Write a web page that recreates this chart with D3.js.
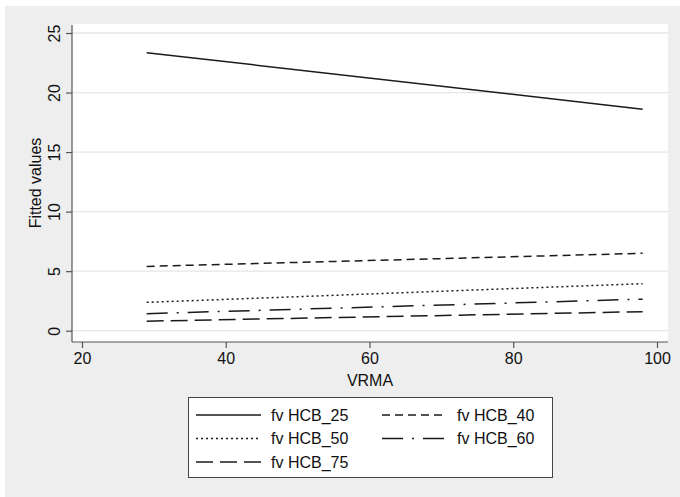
<!DOCTYPE html>
<html>
<head>
<meta charset="utf-8">
<script src="https://cdn.jsdelivr.net/npm/d3@7"></script>
<style>
  html, body { margin: 0; padding: 0; background: #ffffff; }
  svg { display: block; }
  text { font-family: "Liberation Sans", Arial, Helvetica, sans-serif; fill: #111; }
</style>
</head>
<body>
<svg id="chart" width="680" height="497"></svg>
<script>
// ---- data ----
const vrma = [29, 98];
const hcb25 = [23.35, 18.6];
const hcb40 = [5.4, 6.5];
const hcb50 = [2.38, 3.95];
const hcb60 = [1.43, 2.65];
const hcb75 = [0.8, 1.6];
const seriesNames = ["fv HCB_25", "fv HCB_40", "fv HCB_50", "fv HCB_60", "fv HCB_75"];
const xTicks = [20, 40, 60, 80, 100];
const yTicks = [0, 5, 10, 15, 20, 25];
const xTitle = "VRMA";
const yTitle = "Fitted values";

// ---- styles ----
const dashes = ["none", "8,5", "2,3", "21,9,2,9", "17,7"];

const svg = d3.select("#chart");
const W = 680, H = 497;
const plot = { left: 72, right: 668, top: 24, bottom: 342 };

// background
svg.append("rect").attr("x", 5).attr("y", 6).attr("width", W - 5).attr("height", H - 6)
  .attr("fill", "#eeeeee");
svg.append("rect").attr("x", plot.left).attr("y", plot.top)
  .attr("width", plot.right - plot.left).attr("height", plot.bottom - plot.top)
  .attr("fill", "#ffffff");

const x = d3.scaleLinear().domain([20, 100]).range([82, 657]);
const y = d3.scaleLinear().domain([0, 25]).range([330.7, 33]);

// gridlines
svg.append("g").selectAll("line").data(yTicks).join("line")
  .attr("x1", plot.left).attr("x2", plot.right)
  .attr("y1", d => y(d)).attr("y2", d => y(d))
  .attr("stroke", "#e6e6e6").attr("stroke-width", 1.3);

// axis lines
svg.append("line").attr("x1", plot.left).attr("x2", plot.left)
  .attr("y1", plot.top + 1).attr("y2", plot.bottom)
  .attr("stroke", "#555").attr("stroke-width", 1.2);
svg.append("line").attr("x1", plot.left).attr("x2", plot.right)
  .attr("y1", plot.bottom).attr("y2", plot.bottom)
  .attr("stroke", "#555").attr("stroke-width", 1.2);

// x axis
const gx = svg.append("g").attr("transform", `translate(0,${plot.bottom})`)
  .call(d3.axisBottom(x).tickValues(xTicks).tickSize(6).tickSizeOuter(0).tickFormat(d3.format("d")));
gx.select(".domain").remove();
gx.selectAll(".tick line").attr("stroke", "#555").attr("stroke-width", 1.2);
gx.selectAll(".tick text").attr("y", 22).attr("dy", 0)
  .style("font-size", "16px").style("font-family", '"Liberation Sans", Arial, sans-serif').attr("fill", "#111");

// y axis
const gy = svg.append("g").attr("transform", `translate(${plot.left},0)`)
  .call(d3.axisLeft(y).tickValues(yTicks).tickSize(6).tickSizeOuter(0).tickFormat(d3.format("d")));
gy.select(".domain").remove();
gy.selectAll(".tick line").attr("stroke", "#555").attr("stroke-width", 1.2);
gy.selectAll(".tick text")
  .attr("transform", "rotate(-90)")
  .attr("x", 0).attr("y", -12.5).attr("dy", 0)
  .attr("text-anchor", "middle")
  .style("font-size", "16px").style("font-family", '"Liberation Sans", Arial, sans-serif').attr("fill", "#111");

// axis titles
svg.append("text").attr("x", (plot.left + plot.right) / 2).attr("y", 386)
  .attr("text-anchor", "middle").style("font-size", "16px").text(xTitle);
svg.append("text").attr("transform", `translate(41,${(plot.top + plot.bottom) / 2}) rotate(-90)`)
  .attr("text-anchor", "middle").style("font-size", "16px").text(yTitle);

// series lines
const allSeries = [hcb25, hcb40, hcb50, hcb60, hcb75];
const line = d3.line().x(d => x(d[0])).y(d => y(d[1]));
allSeries.forEach((vals, i) => {
  const pts = vrma.map((v, j) => [v, vals[j]]);
  svg.append("path").datum(pts)
    .attr("d", line)
    .attr("fill", "none")
    .attr("stroke", "#1a1a1a")
    .attr("stroke-width", 1.5)
    .attr("stroke-dasharray", dashes[i]);
});

// legend
const lg = svg.append("g");
lg.append("rect").attr("x", 188.5).attr("y", 397.5).attr("width", 364).attr("height", 80)
  .attr("fill", "#ffffff").attr("stroke", "#444").attr("stroke-width", 1);
const colX = [196, 382];
const rowY = [415, 438.5, 462];
seriesNames.forEach((name, i) => {
  const c = i % 2, r = Math.floor(i / 2);
  const lx = colX[c], ly = rowY[r];
  lg.append("line").attr("x1", lx).attr("x2", lx + 65).attr("y1", ly).attr("y2", ly)
    .attr("stroke", "#1a1a1a").attr("stroke-width", 1.5)
    .attr("stroke-dasharray", dashes[i]);
  lg.append("text").attr("x", lx + 75).attr("y", ly + 5.8)
    .style("font-size", "16px").text(name);
});
</script>
</body>
</html>
